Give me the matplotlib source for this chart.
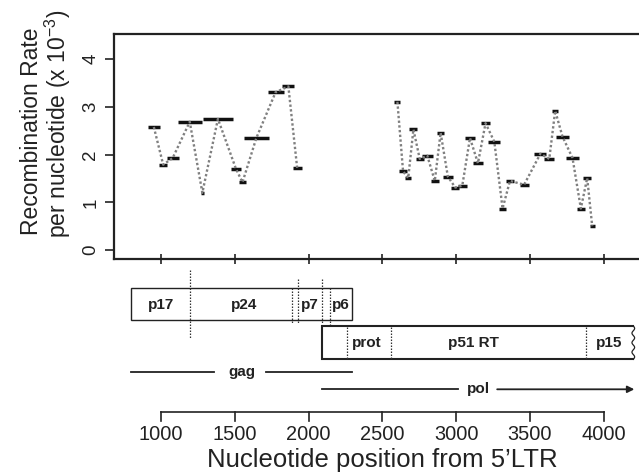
import matplotlib
matplotlib.use('Agg')
import matplotlib.pyplot as plt
import numpy as np

plt.rcParams['font.family'] = ['Liberation Sans', 'DejaVu Sans']
plt.rcParams['mathtext.fontset'] = 'custom'
plt.rcParams['mathtext.rm'] = 'Liberation Sans'
plt.rcParams['mathtext.it'] = 'Liberation Sans:italic'
plt.rcParams['mathtext.bf'] = 'Liberation Sans:bold'

# ---------------- data ----------------
gag_starts = [910, 985, 1037, 1112, 1268, 1285, 1476, 1528, 1562, 1721, 1822, 1890]
gag_ends = [990, 1042, 1119, 1275, 1290, 1484, 1538, 1574, 1728, 1830, 1902, 1954]
gag_rates = [2.58, 1.79, 1.93, 2.69, 1.20, 2.75, 1.70, 1.42, 2.35, 3.31, 3.43, 1.71]

pol_starts = [2580, 2614, 2655, 2682, 2727, 2768, 2829, 2870, 2909, 2967, 3010, 3062, 3116,
              3169, 3218, 3289, 3334, 3429, 3530, 3598, 3651, 3678, 3746, 3818, 3859, 3904]
pol_ends = [2622, 2665, 2694, 2737, 2778, 2839, 2880, 2918, 2977, 3020, 3072, 3124, 3178,
            3228, 3298, 3339, 3394, 3491, 3611, 3663, 3690, 3762, 3830, 3871, 3916, 3939]
pol_rates = [3.11, 1.65, 1.51, 2.53, 1.91, 1.98, 1.45, 2.46, 1.54, 1.31, 1.35, 2.35, 1.82,
             2.66, 2.27, 0.87, 1.45, 1.37, 2.02, 1.91, 2.92, 2.38, 1.93, 0.87, 1.51, 0.50]

y_ticks = [0, 1, 2, 3, 4]
x_ticks = [1000, 1500, 2000, 2500, 3000, 3500, 4000]

# gene map (nucleotide coordinates)
gag_start, gag_end = 793, 2295
pol_start, pol_end = 2090, 4200
gag_dividers = [1193, 1887, 1929, 2092, 2142]
pol_dividers = [2261, 2558, 3877]
gag_proteins = ['p17', 'p24', 'p7', 'p6']
gag_label_pos = [1000, 1565, 2010, 2218]
pol_proteins = ['prot', 'p51 RT', 'p15']
pol_label_pos = [2395, 3116, 4037]

# ---------------- layout ----------------
W, H = 639, 472
fig = plt.figure(figsize=(W / 100, H / 100), dpi=100)

def px2n(px):
    return 1000 + (px - 161.2) / 0.14753

ppu = 47.675
ax = fig.add_axes([114 / W, 1 - 259.3 / H, (W - 114) / W, (259.3 - 34.3) / H])
ax.set_xlim(px2n(114), px2n(W))
ax.set_ylim(-9.3 / ppu, 215.7 / ppu)

dot_style = dict(color='#808080', lw=1.7, linestyle=(0, (1.0, 1.0)), zorder=3)
for s, e, r in [(gag_starts, gag_ends, gag_rates), (pol_starts, pol_ends, pol_rates)]:
    s = np.array(s); e = np.array(e); r = np.array(r)
    ax.hlines(r, s, e, color='#111111', lw=2.5, capstyle='butt', zorder=2)
    ax.plot((s + e) / 2, r, **dot_style)

for side in ['left', 'top', 'bottom']:
    ax.spines[side].set_linewidth(1.6)
    ax.spines[side].set_color('#222222')
ax.spines['right'].set_visible(False)

ax.set_yticks(y_ticks)
ax.set_yticklabels([str(v) for v in y_ticks], rotation=90, va='center', fontsize=13.5)
ax.tick_params(axis='y', direction='out', length=6.5, width=1.2, pad=4, colors='#222222')
ax.set_xticks(x_ticks)
ax.set_xticklabels([])
ax.tick_params(axis='x', direction='inout', length=7.5, width=1.2, colors='#222222')

fig.text(32 / W, 1 - 131 / H, 'Recombination Rate', rotation=90, ha='center', va='center',
         fontsize=16.5, color='#222222')
fig.text(57.5 / W, 1 - 124 / H, r'per nucleotide (x 10$^{-3}$)', rotation=90, ha='center',
         va='center', fontsize=16.5, color='#222222')

# ---------------- gene map overlay ----------------
gx = fig.add_axes([0, 0, 1, 1])
gx.set_xlim(px2n(0), px2n(W))
gx.set_ylim(H, 0)
gx.axis('off')
gx.patch.set_visible(False)

# gag box
gx.add_patch(plt.Rectangle((gag_start, 287.7), gag_end - gag_start, 320.3 - 287.7,
                           fill=False, edgecolor='#222222', lw=1.0))
div_style = dict(color='#333333', lw=0.9, linestyle=(0, (1.2, 1.2)))
gag_div_y = [(270, 338.3), (288, 324), (279, 323), (279, 323), (288, 325)]
for xv, (y0, y1) in zip(gag_dividers, gag_div_y):
    gx.plot([xv, xv], [y0, y1], **div_style)
for name, xp in zip(gag_proteins, gag_label_pos):
    gx.text(xp, 304.5, name, ha='center', va='center', fontsize=11, fontweight='bold',
            color='#222222')

# pol box with wavy right edge
gx.plot([pol_end, pol_start, pol_start, pol_end], [326, 326, 359.3, 359.3],
        color='#222222', lw=1.5, solid_joinstyle='miter')
yy = np.linspace(326, 359.3, 80)
xx = pol_end + 9 * np.sin((yy - 326) / (359.3 - 326) * 2 * np.pi * 3.5)
gx.plot(xx, yy, color='#222222', lw=0.9)
for xv in pol_dividers:
    gx.plot([xv, xv], [327, 359], **div_style)
for name, xp in zip(pol_proteins, pol_label_pos):
    gx.text(xp, 342.5, name, ha='center', va='center', fontsize=11, fontweight='bold',
            color='#222222')

# gag / pol extent lines
gag_mid = (gag_start + gag_end) / 2
gx.plot([gag_start, gag_mid - 27 / 0.14753], [371.7, 371.7], color='#222222', lw=1.3)
gx.plot([gag_mid + 25 / 0.14753, gag_end], [371.7, 371.7], color='#222222', lw=1.3)
gx.text(gag_mid, 371.7, 'gag', ha='center', va='center', fontsize=11, fontweight='bold',
        color='#222222')
pol_arrow_end = 4207
pol_mid = (pol_start + pol_arrow_end) / 2
gx.plot([pol_start, pol_mid - 20 / 0.14753], [389.3, 389.3], color='#222222', lw=1.3)
gx.annotate('', xy=(pol_arrow_end, 389.3), xytext=(pol_mid + 19 / 0.14753, 389.3),
            arrowprops=dict(arrowstyle='-|>', lw=1.3, color='#222222', mutation_scale=10,
                            shrinkA=0, shrinkB=0))
gx.text(pol_mid, 389.3, 'pol', ha='center', va='center', fontsize=11, fontweight='bold',
        color='#222222')

# bottom scale axis
gx.plot([x_ticks[0], x_ticks[-1]], [411.7, 411.7], color='#222222', lw=1.2)
for xv in x_ticks:
    gx.plot([xv, xv], [411.7, 421], color='#222222', lw=1.2)
    gx.text(xv, 440, str(xv), ha='center', va='baseline', fontsize=14.4, color='#222222')
gx.text(2500, 466.5, 'Nucleotide position from 5\u2019LTR', ha='center', va='baseline',
        fontsize=18.5, color='#222222')

fig.savefig('out.png', dpi=100)
